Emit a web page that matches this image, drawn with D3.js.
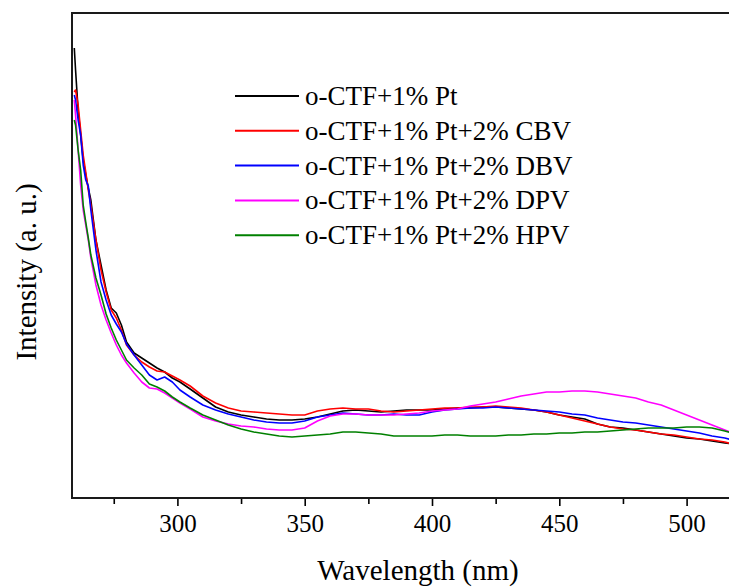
<!DOCTYPE html>
<html>
<head>
<meta charset="utf-8">
<script src="https://cdn.jsdelivr.net/npm/d3@7"></script>
<style>
  body { margin: 0; background: #fff; }
  svg text { font-family: "Liberation Serif", "DejaVu Serif", serif; fill: #000; }
</style>
</head>
<body>
<div id="chart"></div>
<script>
const width = 729, height = 588;
const margin = {left: 72, top: 13, bottom: 90};

// wavelength grid (nm)
const wavelengths = [259.5, 260, 261, 262, 263, 264, 265, 266, 268, 270, 272, 274, 276, 278, 280,
  283, 286, 289, 292, 295, 298, 301, 305, 310, 315, 320, 325, 330, 335, 340, 345, 350, 355, 360,
  365, 370, 375, 380, 385, 390, 395, 400, 405, 410, 415, 420, 425, 430, 435, 440, 445, 450, 455,
  460, 465, 470, 475, 480, 485, 490, 495, 500, 505, 510, 515, 518];

// intensities (a. u.)
const ptOnly = [450, 428, 388, 363, 338, 323, 310, 298, 258, 233, 208, 190, 185, 173, 156,
  145, 140, 135, 130, 126, 120, 116, 109, 100, 91, 86, 83, 81, 79, 78, 78, 79, 81, 84,
  87, 88, 87, 86, 87, 88, 88, 88, 89, 90, 90, 91, 91, 90, 89, 88, 86, 83, 81,
  79, 74, 71, 70, 68, 66, 64, 62, 60, 59, 57, 55, 54];
const cbv = [406, 408, 393, 368, 343, 326, 308, 293, 258, 228, 206, 188, 180, 168, 153,
  143, 136, 131, 127, 126, 122, 118, 112, 102, 95, 90, 87, 86, 85, 84, 83, 83, 87, 89,
  90, 89, 89, 87, 86, 87, 88, 89, 90, 90, 91, 91, 92, 91, 90, 88, 86, 83, 80,
  77, 74, 71, 69, 68, 66, 64, 63, 61, 59, 58, 56, 54];
const dbv = [403, 398, 378, 363, 333, 318, 312, 288, 248, 216, 198, 183, 174, 166, 154,
  143, 133, 123, 118, 121, 116, 108, 101, 93, 88, 84, 81, 78, 76, 75, 75, 77, 81, 83,
  85, 84, 83, 83, 84, 83, 83, 86, 88, 89, 90, 90, 91, 90, 89, 88, 87, 86, 84,
  83, 80, 78, 76, 75, 73, 71, 69, 67, 65, 62, 60, 58];
const dpv = [398, 383, 348, 313, 288, 273, 258, 240, 213, 193, 178, 165, 153, 143, 135,
  125, 116, 110, 109, 105, 100, 95, 89, 81, 77, 74, 72, 71, 69, 68, 68, 70, 77, 82,
  84, 84, 83, 83, 83, 84, 85, 87, 88, 89, 92, 94, 96, 99, 102, 104, 106, 106, 107,
  107, 106, 104, 102, 100, 96, 93, 88, 83, 78, 73, 68, 65];
const hpv = [378, 373, 348, 328, 293, 276, 260, 243, 220, 203, 184, 170, 158, 148, 138,
  130, 123, 114, 111, 107, 101, 96, 90, 83, 78, 73, 69, 66, 64, 62, 61, 62, 63, 64,
  66, 66, 65, 64, 62, 62, 62, 62, 63, 63, 62, 62, 62, 63, 63, 64, 64, 65, 65,
  66, 66, 67, 68, 69, 70, 70, 70, 71, 71, 70, 67, 65];

const seriesNames = ["o-CTF+1% Pt", "o-CTF+1% Pt+2% CBV", "o-CTF+1% Pt+2% DBV",
  "o-CTF+1% Pt+2% DPV", "o-CTF+1% Pt+2% HPV"];
const seriesValues = [ptOnly, cbv, dbv, dpv, hpv];
const seriesColors = ["#000000", "#ff0000", "#0000ff", "#ff00ff", "#008000"];

const majorTicks = [300, 350, 400, 450, 500];
const minorTicks = [275, 325, 375, 425, 475, 525];

let svg = d3.select("#chart")
    .append("svg")
    .attr("width", width)
    .attr("height", height);

let plotBottom = height - margin.bottom;   // 498

// x axis: wavelength
let x = d3.scaleLinear()
    .domain([258.6, 522])
    .range([margin.left, margin.left + (522 - 258.6) * 2.546]);

// y axis: intensity, no ticks
let y = d3.scaleLinear()
    .domain([0, 485])
    .range([plotBottom, margin.top]);

// minor ticks
svg.append("g")
    .attr("transform", `translate(0, ${plotBottom})`)
    .call(d3.axisBottom(x).tickValues(minorTicks).tickSize(6).tickFormat(""))
    .call(g => g.select(".domain").remove())
    .selectAll("line").attr("stroke-width", 1.6);

// major ticks + labels
let xAxis = svg.append("g")
    .attr("transform", `translate(0, ${plotBottom})`)
    .call(d3.axisBottom(x).tickValues(majorTicks).tickSize(8).tickPadding(8));
xAxis.select(".domain").remove();
xAxis.selectAll("line").attr("stroke-width", 1.6);
xAxis.selectAll("text")
    .attr("font-family", null)
    .style("font-size", "25px");

// lines
let line = d3.line()
    .x((d, i) => x(wavelengths[i]))
    .y(d => y(d));

seriesValues.forEach((vals, k) => {
    svg.append("path")
        .datum(vals)
        .attr("fill", "none")
        .attr("stroke", seriesColors[k])
        .attr("stroke-width", 1.6)
        .attr("stroke-linejoin", "round")
        .attr("d", line);
});

// frame (right side runs off the picture)
svg.append("path")
    .attr("d", `M${width + 10},${margin.top}H${margin.left}V${plotBottom}H${width + 10}`)
    .attr("fill", "none")
    .attr("stroke", "#1a1a1a")
    .attr("stroke-width", 2);

// legend
let legend = svg.append("g").attr("transform", "translate(235, 96)");
seriesNames.forEach((name, k) => {
    let row = legend.append("g").attr("transform", `translate(0, ${k * 34.8})`);
    row.append("line")
        .attr("x1", 0).attr("x2", 64)
        .attr("stroke", seriesColors[k])
        .attr("stroke-width", 2);
    row.append("text")
        .attr("x", 70)
        .attr("dy", "0.33em")
        .style("font-size", "27px")
        .text(name);
});

// axis titles
svg.append("text")
    .attr("x", 418)
    .attr("y", 580)
    .style("text-anchor", "middle")
    .style("font-size", "29px")
    .text("Wavelength (nm)");

svg.append("text")
    .attr("transform", "translate(36, 272) rotate(-90)")
    .style("text-anchor", "middle")
    .style("font-size", "29px")
    .text("Intensity (a. u.)");
</script>
</body>
</html>
